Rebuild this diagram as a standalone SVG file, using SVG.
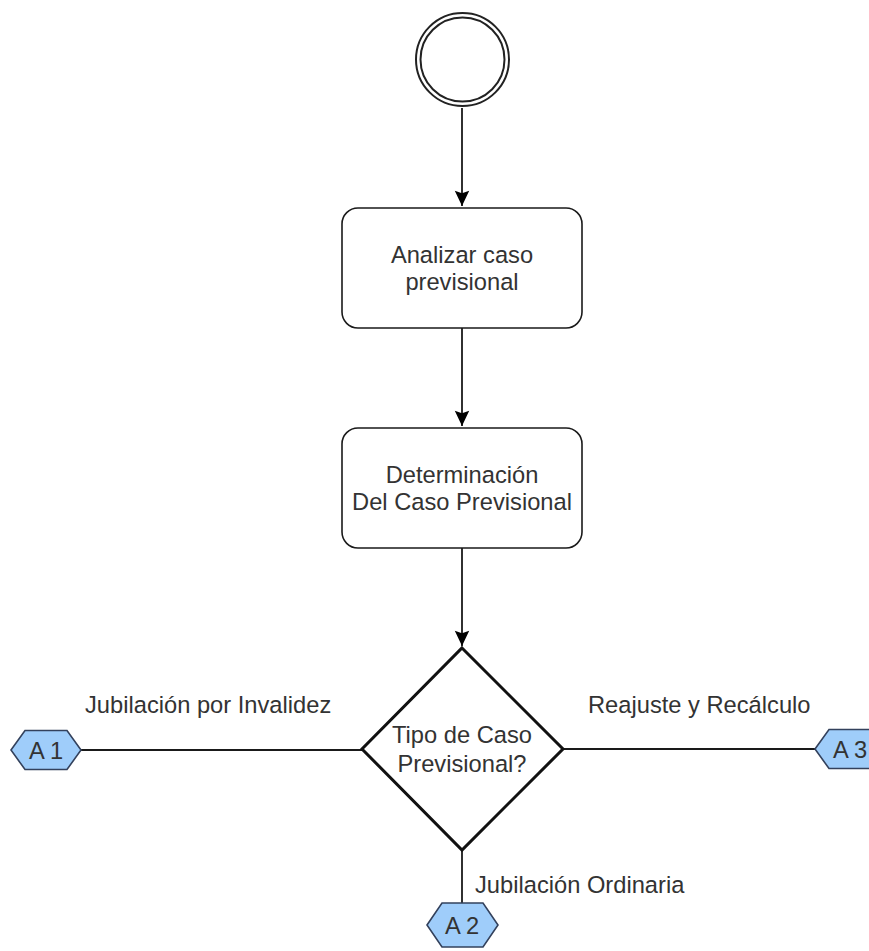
<svg xmlns="http://www.w3.org/2000/svg" width="869" height="951" viewBox="0 0 869 951">
  <style>
    .txt { font-family: "Liberation Sans", Arial, sans-serif; font-size: 23.7px; fill: #333333; }
    .mid { text-anchor: middle; }
    .task { fill: #ffffff; stroke: #1a1a1a; stroke-width: 1.6; }
    .gate { fill: #ffffff; stroke: #111111; stroke-width: 3; }
    .ring { fill: none; stroke: #222222; stroke-width: 2; }
    .hex { fill: #9fcdfa; stroke: #33415c; stroke-width: 1.6; }
    .edge { fill: none; stroke: #1a1a1a; stroke-width: 1.8; }
  </style>
  <defs>
    <marker id="arrow" viewBox="0 0 10 10" refX="10" refY="5" markerWidth="8.5" markerHeight="8.5" markerUnits="userSpaceOnUse" orient="auto" overflow="visible">
      <path d="M10 5 L-8 -3.5 L-5 5 L-8 13.5 Z" fill="#000000"/>
    </marker>
  </defs>
  <rect width="869" height="951" fill="#ffffff"/>

  <!-- connectors -->
  <g id="connectors">
    <path class="edge" d="M462 108 V206" marker-end="url(#arrow)"/>
    <path class="edge" d="M462 328 V426" marker-end="url(#arrow)"/>
    <path class="edge" d="M462 548 V646" marker-end="url(#arrow)"/>
    <path class="edge" d="M80 750 H362"/>
    <path class="edge" d="M563 749 H815"/>
    <path class="edge" d="M462 850 V903"/>
    <text class="txt" x="85" y="713">Jubilación por Invalidez</text>
    <text class="txt" x="588" y="713">Reajuste y Recálculo</text>
    <text class="txt" x="475" y="893">Jubilación Ordinaria</text>
  </g>

  <!-- start event -->
  <g id="start">
    <circle class="ring" cx="462.5" cy="59.5" r="46.5"/>
    <circle class="ring" cx="462.5" cy="59.5" r="42"/>
  </g>

  <g id="analizar">
    <rect class="task" x="342" y="208" width="240" height="120" rx="16" ry="16"/>
    <text class="txt mid" x="462" y="263">Analizar caso</text>
    <text class="txt mid" x="462" y="290">previsional</text>
  </g>

  <g id="determinacion">
    <rect class="task" x="342" y="428" width="240" height="120" rx="16" ry="16"/>
    <text class="txt mid" x="462" y="483">Determinación</text>
    <text class="txt mid" x="462" y="510">Del Caso Previsional</text>
  </g>

  <g id="gateway">
    <path class="gate" d="M462 648 L563 749 L462 850 L362 749 Z"/>
    <text class="txt mid" x="462" y="743">Tipo de Caso</text>
    <text class="txt mid" x="462" y="772">Previsional?</text>
  </g>

  <g id="a1">
    <path class="hex" d="M11 750 L25 730.5 L67 730.5 L81 750 L67 769.5 L25 769.5 Z"/>
    <text class="txt mid" x="46" y="759">A 1</text>
  </g>

  <g id="a3">
    <path class="hex" d="M815 749 L829 729.5 L871 729.5 L885 749 L871 768.5 L829 768.5 Z"/>
    <text class="txt mid" x="850" y="758">A 3</text>
  </g>

  <g id="a2">
    <path class="hex" d="M427 925 L442 903 L483 903 L498 925 L483 947 L442 947 Z"/>
    <text class="txt mid" x="462" y="934">A 2</text>
  </g>
</svg>
